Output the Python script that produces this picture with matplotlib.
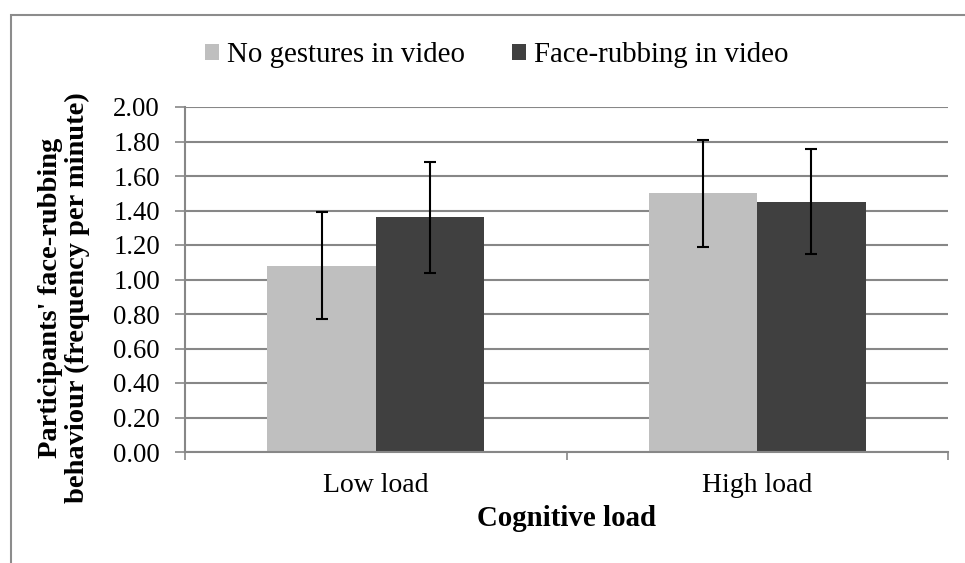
import matplotlib
matplotlib.use("Agg")
import matplotlib.pyplot as plt
import numpy as np
from matplotlib.patches import Rectangle

# data
categories = ["Low load", "High load"]
series_names = ["No gestures in video", "Face-rubbing in video"]
no_gesture = [1.08, 1.50]
no_gesture_err = [0.31, 0.31]
face_rub = [1.36, 1.45]
face_rub_err = [0.32, 0.305]
yticks = [0.0, 0.2, 0.4, 0.6, 0.8, 1.0, 1.2, 1.4, 1.6, 1.8, 2.0]

plt.rcParams["font.family"] = ["Liberation Serif", "DejaVu Serif"]

fig = plt.figure(figsize=(9.65, 5.63), dpi=100)
ax = fig.add_axes([185 / 965, 1 - 452 / 563, (948 - 185) / 965, 345 / 563])

# grey frame round the whole chart (runs off right and bottom edge)
fig.patches.append(Rectangle((11 / 965, -0.1), 1.2, 1 - 15 / 563 + 0.1,
                             transform=fig.transFigure, fill=False,
                             edgecolor="#8c8c8c", linewidth=1.5))

x = np.arange(len(categories))
w = 0.284
grid_c = "#878787"
ekw = dict(ecolor="black", elinewidth=1.5, capsize=4.3, capthick=1.5)

ax.bar(x - w / 2, no_gesture, w, color="#bfbfbf", yerr=no_gesture_err,
       error_kw=ekw, label=series_names[0], zorder=2)
ax.bar(x + w / 2, face_rub, w, color="#404040", yerr=face_rub_err,
       error_kw=ekw, label=series_names[1], zorder=2)

ax.set_xlim(-0.5, 1.5)
ax.set_ylim(0, 2.0)
ax.set_yticks(yticks)
ax.set_yticklabels(["%.2f" % v for v in yticks])
ax.yaxis.grid(True, color=grid_c, linewidth=1.5, zorder=0)
ax.set_axisbelow(True)

ax.set_xticks([-0.5, 0.5, 1.5])
ax.set_xticklabels([])
ax.set_xticks(x, minor=True)
ax.set_xticklabels(categories, minor=True)
ax.tick_params(axis="x", which="major", direction="out", length=6,
               width=1.2, color=grid_c)
ax.tick_params(axis="x", which="minor", length=0, pad=15, labelsize=20)
ax.tick_params(axis="y", direction="out", length=7, width=1.2,
               color=grid_c, pad=11, labelsize=19.3)

for s in ["top", "right"]:
    ax.spines[s].set_visible(False)
for s in ["left", "bottom"]:
    ax.spines[s].set_color(grid_c)
    ax.spines[s].set_linewidth(1.5)

ax.set_xlabel("Cognitive load", fontsize=20.8, fontweight="bold", va="center")
ax.xaxis.set_label_coords(0.5, -(519 - 452) / 345)

fig.text(64 / 965, 1 - 298 / 563,
         "Participants' face-rubbing\nbehaviour (frequency per minute)",
         rotation=90, ha="center", va="center", ma="center",
         fontsize=20.5, fontweight="bold", linespacing=1.12)

fig.legend(loc="center", bbox_to_anchor=(497 / 965, 1 - 55 / 563), ncol=2,
           frameon=False, fontsize=20.8, handlelength=0.48, handleheight=0.48,
           handletextpad=0.28, columnspacing=1.63)

fig.savefig("out.png", dpi=100)
